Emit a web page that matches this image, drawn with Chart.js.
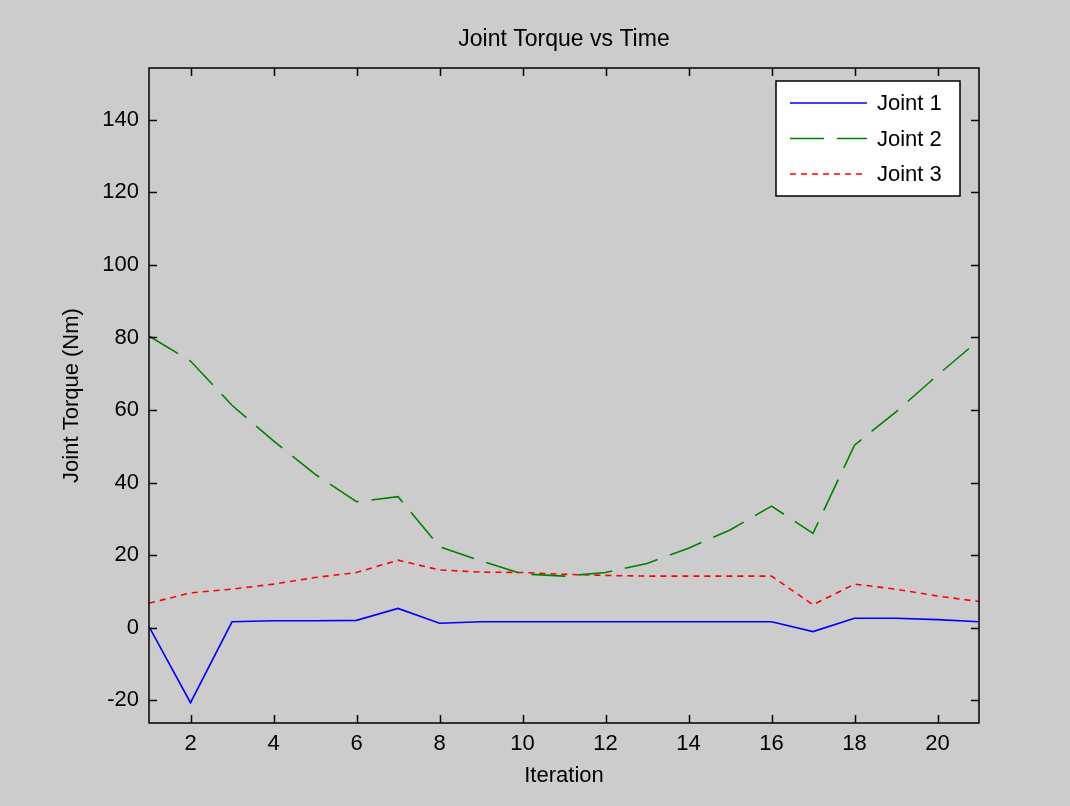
<!DOCTYPE html>
<html>
<head>
<meta charset="utf-8">
<title>Joint Torque vs Time</title>
<script src="https://cdn.jsdelivr.net/npm/chart.js@4.4.1/dist/chart.umd.min.js"></script>
<style>
    html, body { margin: 0; padding: 0; background: #cccccc; }
    #wrap { width: 1070px; height: 806px; }
</style>
</head>
<body>
<div id="wrap"><canvas id="torqueChart" width="1070" height="806"></canvas></div>
<script>
const iterations = [1, 2, 3, 4, 5, 6, 7, 8, 9, 10, 11, 12, 13, 14, 15, 16, 17, 18, 19, 20, 21];
const joint1 = [0.3, -20.7, 1.6, 1.9, 1.9, 2.0, 5.3, 1.2, 1.6, 1.6, 1.6, 1.6, 1.6, 1.6, 1.6, 1.6, -1.1, 2.6, 2.6, 2.2, 1.6];
const joint2 = [80.4, 73.5, 61.3, 51.5, 42.3, 34.7, 36.1, 22.3, 18.4, 14.8, 14.2, 15.2, 17.7, 21.9, 26.9, 33.5, 26.0, 50.3, 59.5, 69.6, 79.3];
const joint3 = [6.7, 9.6, 10.6, 12.0, 13.8, 15.2, 18.6, 15.9, 15.3, 15.2, 14.7, 14.4, 14.2, 14.2, 14.2, 14.2, 6.3, 12.0, 10.6, 8.7, 7.2];
const xTicks = [2, 4, 6, 8, 10, 12, 14, 16, 18, 20];
const yTicks = [-20, 0, 20, 40, 60, 80, 100, 120, 140];

const seriesNames = ['Joint 1', 'Joint 2', 'Joint 3'];
const seriesColors = ['#0000ff', '#008000', '#ff0000'];
const seriesDash = [[], [34, 13], [6, 5]];

const FONT = '"Liberation Sans", Arial, sans-serif';
Chart.defaults.font.family = FONT;
Chart.defaults.font.size = 22;
Chart.defaults.color = '#000000';

function toPoints(values) {
    return iterations.map((x, i) => ({ x: x, y: values[i] }));
}

// axes box, inward ticks, title, axis labels and legend, MATLAB style
const matlabDecor = {
    id: 'matlabDecor',
    afterDatasetsDraw(chart) {
        const ctx = chart.ctx;
        const area = chart.chartArea;
        const xs = chart.scales.x;
        const ys = chart.scales.y;
        const tickLen = 8;

        ctx.save();
        ctx.strokeStyle = '#000000';
        ctx.lineWidth = 1.5;
        ctx.setLineDash([]);
        ctx.beginPath();
        xTicks.forEach(v => {
            const px = Math.round(xs.getPixelForValue(v)) + 0.5;
            ctx.moveTo(px, area.bottom);
            ctx.lineTo(px, area.bottom - tickLen);
            ctx.moveTo(px, area.top);
            ctx.lineTo(px, area.top + tickLen);
        });
        yTicks.forEach(v => {
            const py = Math.round(ys.getPixelForValue(v)) + 0.5;
            ctx.moveTo(area.left, py);
            ctx.lineTo(area.left + tickLen, py);
            ctx.moveTo(area.right, py);
            ctx.lineTo(area.right - tickLen, py);
        });
        ctx.stroke();
        ctx.strokeRect(area.left, area.top, area.right - area.left, area.bottom - area.top);

        // legend
        const lx = 776, ly = 81, lw = 184, lh = 115;
        ctx.fillStyle = '#ffffff';
        ctx.fillRect(lx, ly, lw, lh);
        ctx.strokeRect(lx, ly, lw, lh);
        ctx.font = '22px ' + FONT;
        ctx.textAlign = 'left';
        ctx.textBaseline = 'middle';
        seriesNames.forEach((name, i) => {
            const y = ly + 22 + i * 35.5;
            ctx.strokeStyle = seriesColors[i];
            ctx.lineWidth = 1.5;
            ctx.setLineDash(seriesDash[i]);
            ctx.beginPath();
            ctx.moveTo(790, y);
            ctx.lineTo(867, y);
            ctx.stroke();
            ctx.setLineDash([]);
            ctx.fillStyle = '#000000';
            ctx.fillText(name, 877, y + 1);
        });

        // title and axis labels
        const cx = (area.left + area.right) / 2;
        ctx.textAlign = 'center';
        ctx.font = '23px ' + FONT;
        ctx.fillText('Joint Torque vs Time', cx, 40);
        ctx.font = '22px ' + FONT;
        ctx.fillText('Iteration', cx, 776);
        ctx.translate(72, (area.top + area.bottom) / 2);
        ctx.rotate(-Math.PI / 2);
        ctx.fillText('Joint Torque (Nm)', 0, 0);
        ctx.restore();
    }
};

const ctx = document.getElementById('torqueChart').getContext('2d');

const torqueChart = new Chart(ctx, {
    type: 'line',
    data: {
        datasets: seriesNames.map((name, i) => ({
            label: name,
            data: toPoints([joint1, joint2, joint3][i]),
            borderColor: seriesColors[i],
            backgroundColor: seriesColors[i],
            borderWidth: 1.6,
            borderDash: seriesDash[i],
            pointRadius: 0,
            tension: 0,
            fill: false
        }))
    },
    options: {
        responsive: false,
        animation: false,
        layout: {
            padding: { left: 0, top: 68, right: 91, bottom: 0 }
        },
        plugins: {
            legend: { display: false },
            title: { display: false },
            tooltip: { enabled: false }
        },
        scales: {
            x: {
                type: 'linear',
                min: 1,
                max: 21,
                grid: { display: false, drawTicks: false },
                border: { display: false },
                ticks: { padding: 8, maxRotation: 0 },
                afterBuildTicks: (scale) => {
                    scale.ticks = xTicks.map(v => ({ value: v }));
                },
                afterFit: (scale) => {
                    scale.height = 83;
                }
            },
            y: {
                type: 'linear',
                min: -26.3,
                max: 154.3,
                grid: { display: false, drawTicks: false },
                border: { display: false },
                ticks: { padding: 10 },
                afterBuildTicks: (scale) => {
                    scale.ticks = yTicks.map(v => ({ value: v }));
                },
                afterFit: (scale) => {
                    scale.width = 149;
                }
            }
        }
    },
    plugins: [matlabDecor]
});
</script>
</body>
</html>
